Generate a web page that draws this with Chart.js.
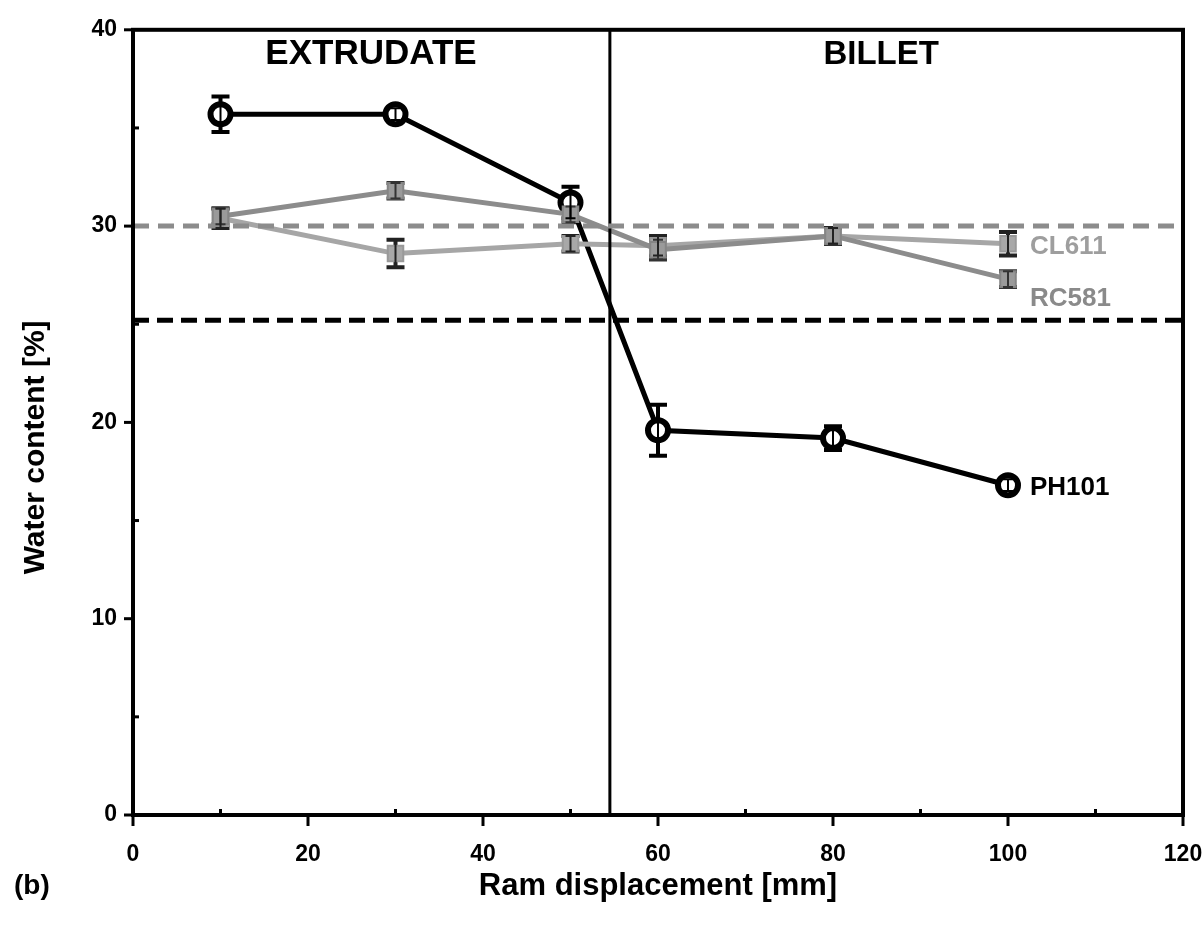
<!DOCTYPE html>
<html>
<head>
<meta charset="utf-8">
<script src="https://cdn.jsdelivr.net/npm/chart.js@4"></script>
<style>
  html, body { margin: 0; padding: 0; background: #fff; }
  #wrap { width: 1203px; height: 934px; }
</style>
</head>
<body>
<div id="wrap"><canvas id="grafico"></canvas></div>
<script>
// Datos: desplazamiento del pistón (mm) y contenido de agua (%)
const desplazamiento = [10, 30, 50, 60, 80, 100];
const ph101 = [35.7, 35.7, 31.2, 19.6, 19.2, 16.8];
const ph101Err = [0.9, 0.3, 0.8, 1.3, 0.6, 0.3];
const rc581 = [30.5, 31.8, 30.6, 28.8, 29.5, 27.3];
const rc581Err = [0.4, 0.4, 0.4, 0.5, 0.4, 0.4];
const cl611 = [30.4, 28.6, 29.1, 29.0, 29.5, 29.1];
const cl611Err = [0.5, 0.7, 0.4, 0.5, 0.4, 0.6];

// Niveles de referencia y límite extrudado / tocho
const nivelGris = 30.0;
const nivelNegro = 25.2;
const limiteZonas = 54.5;

const ejeX = { min: 0, max: 120, paso: 20 };
const ejeY = { min: 0, max: 40, paso: 10 };

const FUENTE = '"Liberation Sans", Arial, sans-serif';

function puntos(ys) {
  return desplazamiento.map((x, i) => ({ x: x, y: ys[i] }));
}

function barrasError(chart, ancho, cap) {
  const { ctx, scales: { y } } = chart;
  chart.data.datasets.forEach((ds, i) => {
    if (!ds.errores) return;
    const meta = chart.getDatasetMeta(i);
    ctx.strokeStyle = ds.colorError;
    ctx.lineWidth = ancho;
    meta.data.forEach((p, j) => {
      const v = ds.data[j].y, e = ds.errores[j];
      const y1 = y.getPixelForValue(v + e), y2 = y.getPixelForValue(v - e);
      ctx.beginPath();
      ctx.moveTo(p.x, y1); ctx.lineTo(p.x, y2);
      ctx.moveTo(p.x - cap, y1); ctx.lineTo(p.x + cap, y1);
      ctx.moveTo(p.x - cap, y2); ctx.lineTo(p.x + cap, y2);
      ctx.stroke();
    });
  });
}

// Barras de error, marco del gráfico, marcas de ejes y textos
const extras = {
  id: 'extras',
  beforeDatasetsDraw(chart) {
    chart.ctx.save();
    barrasError(chart, 4, 9);
    chart.ctx.restore();
  },
  afterDatasetsDraw(chart) {
    const { ctx, chartArea: a, scales: { x, y } } = chart;
    ctx.save();

    // barras de error encima de los marcadores
    barrasError(chart, 2, 5);

    // marco
    ctx.strokeStyle = '#000';
    ctx.lineWidth = 4;
    ctx.strokeRect(a.left, a.top, a.right - a.left, a.bottom - a.top);

    // marcas principales hacia fuera, secundarias hacia dentro
    ctx.lineWidth = 3;
    x.ticks.forEach((t, k) => {
      const px = x.getPixelForValue(t.value);
      ctx.beginPath(); ctx.moveTo(px, a.bottom); ctx.lineTo(px, a.bottom + 11); ctx.stroke();
      if (k < x.ticks.length - 1) {
        const pm = x.getPixelForValue(t.value + ejeX.paso / 2);
        ctx.beginPath(); ctx.moveTo(pm, a.bottom); ctx.lineTo(pm, a.bottom - 6); ctx.stroke();
      }
    });
    y.ticks.forEach((t, k) => {
      const py = y.getPixelForValue(t.value);
      ctx.beginPath(); ctx.moveTo(a.left, py); ctx.lineTo(a.left - 9, py); ctx.stroke();
      if (k < y.ticks.length - 1) {
        const pm = y.getPixelForValue(t.value + ejeY.paso / 2);
        ctx.beginPath(); ctx.moveTo(a.left, pm); ctx.lineTo(a.left + 6, pm); ctx.stroke();
      }
    });

    // etiquetas de serie al final de cada curva
    ctx.textBaseline = 'middle';
    ctx.textAlign = 'left';
    chart.data.datasets.forEach((ds, i) => {
      if (!ds.etiqueta) return;
      const meta = chart.getDatasetMeta(i);
      const p = meta.data[meta.data.length - 1];
      ctx.font = 'bold 26px ' + FUENTE;
      ctx.fillStyle = ds.colorEtiqueta;
      ctx.fillText(ds.etiqueta, p.x + 22, p.y + ds.desplEtiqueta);
    });

    // zonas
    ctx.fillStyle = '#000';
    ctx.textAlign = 'center';
    ctx.font = 'bold 35px ' + FUENTE;
    ctx.fillText('EXTRUDATE', x.getPixelForValue(27.2), a.top + 25);
    ctx.font = 'bold 33px ' + FUENTE;
    ctx.fillText('BILLET', x.getPixelForValue(85.5), a.top + 25);

    // títulos de ejes
    ctx.font = 'bold 31px ' + FUENTE;
    ctx.fillText('Ram displacement [mm]', (a.left + a.right) / 2, 886);
    ctx.font = 'bold 28px ' + FUENTE;
    ctx.textAlign = 'left';
    ctx.fillText('(b)', 14, 886);
    ctx.font = 'bold 30px ' + FUENTE;
    ctx.translate(36, (a.top + a.bottom) / 2 + 25);
    ctx.rotate(-Math.PI / 2);
    ctx.textAlign = 'center';
    ctx.fillText('Water content [%]', 0, 0);

    ctx.restore();
  }
};

const ctx = document.getElementById('grafico').getContext('2d');
new Chart(ctx, {
  type: 'line',
  data: {
    datasets: [
      {
        label: 'nivel gris',
        data: [{ x: ejeX.min, y: nivelGris }, { x: ejeX.max, y: nivelGris }],
        borderColor: '#8c8c8c',
        borderWidth: 5,
        borderDash: [16, 9],
        pointRadius: 0
      },
      {
        label: 'nivel negro',
        data: [{ x: ejeX.min, y: nivelNegro }, { x: ejeX.max, y: nivelNegro }],
        borderColor: '#000',
        borderWidth: 5,
        borderDash: [16, 8],
        pointRadius: 0
      },
      {
        label: 'límite',
        data: [{ x: limiteZonas, y: ejeY.min }, { x: limiteZonas, y: ejeY.max }],
        borderColor: '#000',
        borderWidth: 3,
        pointRadius: 0
      },
      {
        label: 'RC581',
        etiqueta: 'RC581',
        colorEtiqueta: '#8a8a8a',
        desplEtiqueta: 20,
        data: puntos(rc581),
        errores: rc581Err,
        colorError: '#333',
        borderColor: '#8c8c8c',
        borderWidth: 5,
        pointStyle: 'rect',
        pointRadius: 11,
        pointBackgroundColor: '#9a9a9a',
        pointBorderColor: '#858585',
        pointBorderWidth: 2
      },
      {
        label: 'CL611',
        etiqueta: 'CL611',
        colorEtiqueta: '#9e9e9e',
        desplEtiqueta: 3,
        data: puntos(cl611),
        errores: cl611Err,
        colorError: '#222',
        borderColor: '#a6a6a6',
        borderWidth: 5,
        pointStyle: 'rect',
        pointRadius: 11,
        pointBackgroundColor: '#a8a8a8',
        pointBorderColor: '#999',
        pointBorderWidth: 2
      },
      {
        label: 'PH101',
        etiqueta: 'PH101',
        colorEtiqueta: '#000',
        desplEtiqueta: 3,
        data: puntos(ph101),
        errores: ph101Err,
        colorError: '#000',
        borderColor: '#000',
        borderWidth: 5,
        pointStyle: 'circle',
        pointRadius: 10,
        pointBackgroundColor: '#fff',
        pointBorderColor: '#000',
        pointBorderWidth: 6
      }
    ]
  },
  options: {
    responsive: true,
    maintainAspectRatio: false,
    animation: false,
    layout: { padding: { top: 28, right: 0, left: 0, bottom: 0 } },
    plugins: {
      legend: { display: false },
      tooltip: { enabled: false }
    },
    scales: {
      x: {
        type: 'linear',
        min: ejeX.min, max: ejeX.max,
        grid: { display: false, drawTicks: false },
        border: { display: false },
        ticks: {
          stepSize: ejeX.paso,
          padding: 26,
          color: '#000',
          font: { family: FUENTE, size: 23, weight: 'bold' }
        },
        afterFit(s) { s.height = 119; s.paddingRight = 20; }
      },
      y: {
        min: ejeY.min, max: ejeY.max,
        grid: { display: false, drawTicks: false },
        border: { display: false },
        ticks: {
          stepSize: ejeY.paso,
          padding: 16,
          color: '#000',
          font: { family: FUENTE, size: 23, weight: 'bold' }
        },
        afterFit(s) { s.width = 133; }
      }
    }
  },
  plugins: [extras]
});
</script>
</body>
</html>
